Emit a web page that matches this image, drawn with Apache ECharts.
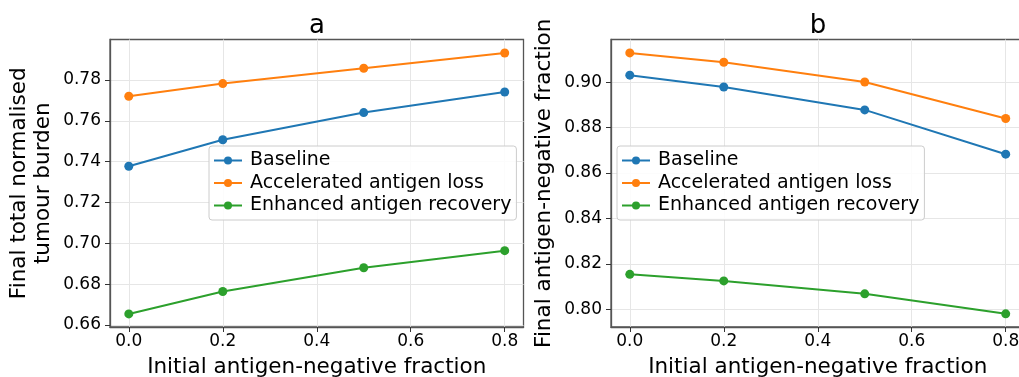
<!DOCTYPE html>
<html>
<head>
<meta charset="utf-8">
<script src="https://cdn.jsdelivr.net/npm/echarts@6/dist/echarts.min.js"></script>
<style>
  html, body { margin: 0; padding: 0; background: #fff; }
  #chart { width: 1019px; height: 377px; }
</style>
</head>
<body>
<div id="chart"></div>
<script>
// x values shared by both panels
const fractions = [0.0, 0.2, 0.5, 0.8];

// panel a: final total normalised tumour burden
const burdenBaseline = [0.7377, 0.7507, 0.7640, 0.7741];
const burdenAccelerated = [0.7720, 0.7782, 0.7857, 0.7932];
const burdenEnhanced = [0.6654, 0.6764, 0.6880, 0.6964];

// panel b: final antigen-negative fraction
const negBaseline = [0.9031, 0.8979, 0.8878, 0.8683];
const negAccelerated = [0.9129, 0.9088, 0.9001, 0.8840];
const negEnhanced = [0.8154, 0.8125, 0.8068, 0.7980];

const xTicks = [0.0, 0.2, 0.4, 0.6, 0.8];
const yTicksA = [0.66, 0.68, 0.70, 0.72, 0.74, 0.76, 0.78];
const yTicksB = [0.80, 0.82, 0.84, 0.86, 0.88, 0.90];

const seriesNames = ['Baseline', 'Accelerated antigen loss', 'Enhanced antigen recovery'];
const colors = ['#1f77b4', '#ff7f0e', '#2ca02c'];

const FONT = 'DejaVu Sans';

function pairs(ys) {
  return fractions.map((x, i) => [x, ys[i]]);
}

function xAxisFor(gridIndex) {
  return {
    type: 'value', gridIndex: gridIndex, min: -0.04, max: 0.84,
    name: 'Initial antigen-negative fraction', nameLocation: 'middle', nameGap: 29,
    nameTextStyle: { fontSize: 21.5, color: '#000', fontFamily: FONT },
    axisLine: { show: true, onZero: false, lineStyle: { color: '#555', width: 1.3 } },
    axisTick: { show: true, length: 5, customValues: xTicks, lineStyle: { color: '#333' } },
    axisLabel: { customValues: xTicks, formatter: v => v.toFixed(1), fontSize: 17, margin: 6, color: '#000', fontFamily: FONT },
    splitLine: { show: true, lineStyle: { color: '#e6e6e6', width: 1 } }
  };
}

function yAxisFor(gridIndex, min, max, ticks, name) {
  return {
    type: 'value', gridIndex: gridIndex, min: min, max: max,
    name: name, nameLocation: 'middle', nameGap: 54,
    nameTextStyle: { fontSize: 21.5, lineHeight: 24.5, color: '#000', fontFamily: FONT },
    axisLine: { show: true, onZero: false, lineStyle: { color: '#555', width: 1.3 } },
    axisTick: { show: true, length: 5, customValues: ticks, lineStyle: { color: '#333' } },
    axisLabel: { customValues: ticks, formatter: v => v.toFixed(2), fontSize: 17, margin: 9, color: '#000', fontFamily: FONT },
    splitLine: { show: true, lineStyle: { color: '#e6e6e6', width: 1 } }
  };
}

function lineSeries(name, color, ys, idx) {
  return {
    name: name, type: 'line', xAxisIndex: idx, yAxisIndex: idx,
    data: pairs(ys), symbol: 'circle', symbolSize: 9, showSymbol: true,
    lineStyle: { width: 2, color: color }, itemStyle: { color: color },
    emphasis: { disabled: true }
  };
}

function legendAt(left) {
  return {
    left: left, top: 146, orient: 'vertical',
    data: seriesNames,
    itemWidth: 28, itemHeight: 10, itemGap: 3.5,
    padding: [5, 5, 5, 4],
    backgroundColor: 'rgba(255,255,255,0.85)',
    borderColor: '#cccccc', borderWidth: 1, borderRadius: 3,
    textStyle: { fontSize: 19, lineHeight: 19, color: '#000', fontFamily: FONT, padding: [0, 0, 0, 3] }
  };
}

const gridBase = { top: 39.5, width: 413.5, height: 287.5, show: true, borderColor: '#555', borderWidth: 1.3, outerBoundsMode: 'none', containLabel: false };

const chart = echarts.init(document.getElementById('chart'));
chart.setOption({
  animation: false,
  backgroundColor: '#fff',
  textStyle: { fontFamily: FONT },
  title: [
    { text: 'a', left: 317, top: 13, textAlign: 'center', padding: 0,
      textStyle: { fontSize: 26, fontWeight: 'normal', color: '#000', fontFamily: FONT } },
    { text: 'b', left: 818, top: 13, textAlign: 'center', padding: 0,
      textStyle: { fontSize: 26, fontWeight: 'normal', color: '#000', fontFamily: FONT } }
  ],
  grid: [
    Object.assign({ left: 110 }, gridBase),
    Object.assign({ left: 611 }, gridBase)
  ],
  xAxis: [xAxisFor(0), xAxisFor(1)],
  yAxis: [
    yAxisFor(0, 0.659, 0.7998, yTicksA, 'Final total normalised\ntumour burden'),
    yAxisFor(1, 0.7922, 0.9188, yTicksB, 'Final antigen-negative fraction')
  ],
  legend: [legendAt(209), legendAt(617)],
  series: [
    lineSeries(seriesNames[0], colors[0], burdenBaseline, 0),
    lineSeries(seriesNames[1], colors[1], burdenAccelerated, 0),
    lineSeries(seriesNames[2], colors[2], burdenEnhanced, 0),
    lineSeries(seriesNames[0], colors[0], negBaseline, 1),
    lineSeries(seriesNames[1], colors[1], negAccelerated, 1),
    lineSeries(seriesNames[2], colors[2], negEnhanced, 1)
  ]
});
</script>
</body>
</html>
